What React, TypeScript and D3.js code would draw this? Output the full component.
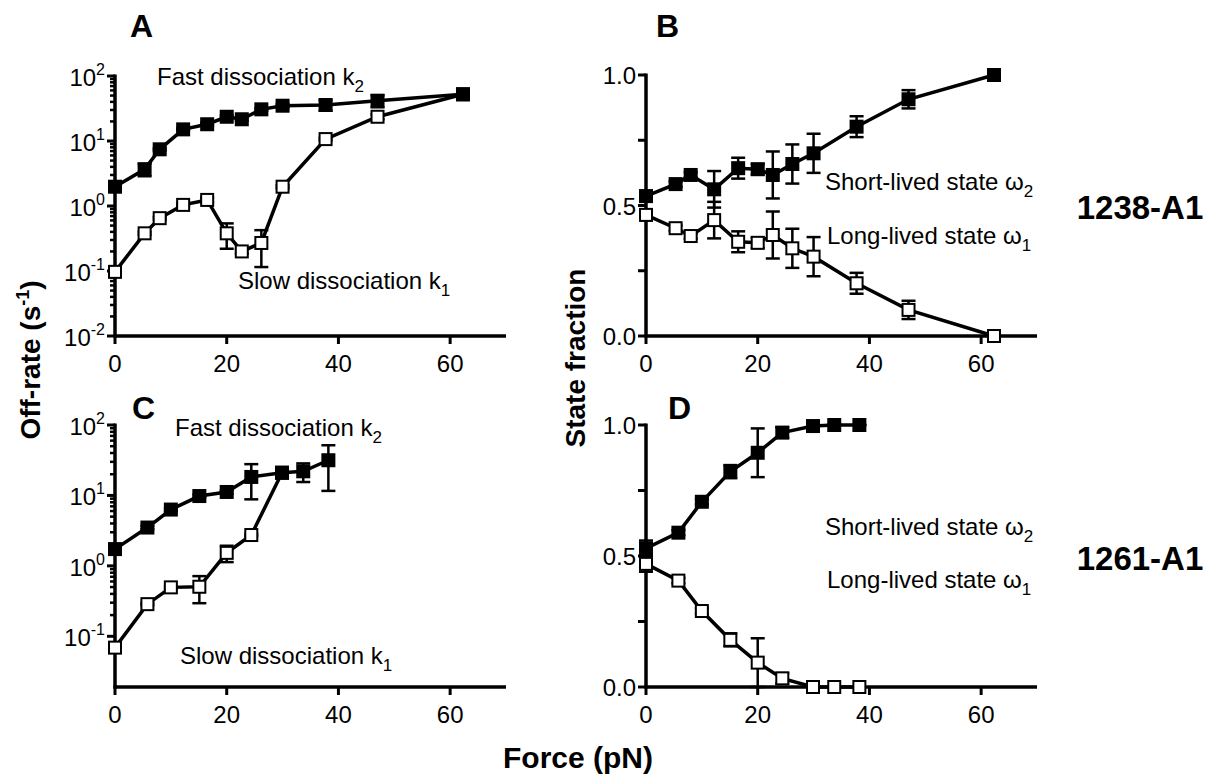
import React from 'react';
import * as d3 from 'd3';

const FONT = '"Liberation Sans", Arial, Helvetica, sans-serif';

// force values (pN), top row (1238-A1)
const forceTop = [0, 5.3, 8, 12.2, 16.5, 20, 22.7, 26.2, 30, 37.7, 47, 62.3];
// panel A off-rates (s^-1)
const fastA = [1.98, 3.67, 7.45, 15.1, 18.1, 23.6, 21.6, 30.7, 34.9, 35.8, 41.7, 52.3];
const fastAErr = [0.1, 0.8, 0.3, 0.6, 0.9, 1.2, 1.1, 1.5, 2, 6.5, 8.7, 2.5];
const slowA = [0.097, 0.38, 0.65, 1.04, 1.24, 0.38, 0.2, 0.27, 1.98, 10.7, 23.6, 52.3];
const slowAErr = [0.005, 0.02, 0.03, 0.05, 0.1, 0.16, 0.015, 0.155, 0.1, 0.5, 2, 2.5];
// panel B state fractions
const shortB = [0.536, 0.582, 0.617, 0.562, 0.643, 0.639, 0.617, 0.659, 0.7, 0.802, 0.907, 1.0];
const longB = [0.464, 0.413, 0.383, 0.444, 0.361, 0.357, 0.387, 0.336, 0.304, 0.202, 0.1, 0.0];
const errB = [0.02, 0.01, 0.01, 0.07, 0.04, 0.02, 0.09, 0.075, 0.075, 0.04, 0.035, 0];

// bottom row (1261-A1)
const forceBottom = [0, 5.8, 10, 15.1, 20, 24.4, 29.9, 33.7, 38.2];
const fastC = [1.73, 3.5, 6.3, 9.8, 11.2, 18.3, 21, 22, 31.6];
const fastCErr = [0.1, 0.2, 0.3, 0.5, 0.6, 9.5, 1.2, 6.5, 20];
const slowC = [0.069, 0.286, 0.495, 0.505, 1.53, 2.74, 21];
const slowCErr = [0.003, 0.01, 0.02, 0.21, 0.4, 0.1, 1.2];
const shortD = [0.529, 0.589, 0.707, 0.822, 0.894, 0.971, 0.996, 1, 1];
const longD = [0.47, 0.406, 0.29, 0.18, 0.093, 0.033, 0, 0, 0];
const errD = [0.03, 0.01, 0.01, 0.025, 0.093, 0.02, 0.005, 0, 0];

const xTicks = [0, 20, 40, 60];
const fracTicks = [0, 0.25, 0.5, 0.75, 1];
const fracLabels = ['0.0', '', '0.5', '', '1.0'];

type Series = { x: number[]; y: number[]; err: number[]; filled: boolean };

function Plot({ x, y, series, log, decades }: any) {
  const [yb, yt] = y.range();
  const ax0 = x(0);
  const line = d3.line<[number, number]>().x(d => x(d[0])).y(d => y(d[1]));
  const minor: number[] = [];
  if (log) {
    for (let e = decades[0]; e < decades[decades.length - 1]; e++) {
      for (let k = 2; k <= 9; k++) minor.push(k * Math.pow(10, e));
    }
  }
  return (
    <g>
      {/* axes */}
      <line x1={ax0 - 1.5} x2={x(70)} y1={yb} y2={yb} stroke="#000" strokeWidth={3.5} />
      <line x1={ax0} x2={ax0} y1={yt - 1.5} y2={yb + 1.5} stroke="#000" strokeWidth={3.5} />
      {xTicks.map(t => (
        <g key={'x' + t}>
          <line x1={x(t)} x2={x(t)} y1={yb} y2={yb + 8} stroke="#000" strokeWidth={3} />
          <text x={x(t)} y={yb + 36} textAnchor="middle" fontSize={24} fontFamily={FONT}>{t}</text>
        </g>
      ))}
      {log ? (
        <>
          {minor.map(v => (
            <line key={'m' + v} x1={ax0 - 5} x2={ax0} y1={y(v)} y2={y(v)} stroke="#000" strokeWidth={2.5} />
          ))}
          {decades.map((e: number) => (
            <g key={'d' + e}>
              <line x1={ax0 - 8} x2={ax0} y1={y(Math.pow(10, e))} y2={y(Math.pow(10, e))} stroke="#000" strokeWidth={3} />
              <text x={ax0 - 10} y={y(Math.pow(10, e)) + 10} textAnchor="end" fontSize={24} fontFamily={FONT}>
                10<tspan fontSize={16} dy={-11}>{e}</tspan>
              </text>
            </g>
          ))}
        </>
      ) : (
        fracTicks.map((t, i) => (
          <g key={'y' + t}>
            <line x1={ax0 - 8} x2={ax0} y1={y(t)} y2={y(t)} stroke="#000" strokeWidth={3} />
            <text x={ax0 - 10} y={y(t) + 9} textAnchor="end" fontSize={24} fontFamily={FONT}>{fracLabels[i]}</text>
          </g>
        ))
      )}
      {/* lines */}
      {series.map((s: Series, i: number) => (
        <path key={'l' + i} d={line(s.y.map((v, j) => [s.x[j], v]) as [number, number][]) || ''}
          fill="none" stroke="#000" strokeWidth={3.5} />
      ))}
      {/* error bars */}
      {series.map((s: Series, i: number) => (
        <g key={'e' + i}>
          {s.y.map((v, j) => {
            const lo = log ? Math.max(v - s.err[j], 1e-3) : v - s.err[j];
            const hi = v + s.err[j];
            const cx = x(s.x[j]);
            return (
              <g key={j} stroke="#000" strokeWidth={2.5}>
                <line x1={cx} x2={cx} y1={y(lo)} y2={y(hi)} />
                <line x1={cx - 7} x2={cx + 7} y1={y(lo)} y2={y(lo)} />
                <line x1={cx - 7} x2={cx + 7} y1={y(hi)} y2={y(hi)} />
              </g>
            );
          })}
        </g>
      ))}
      {/* markers */}
      {series.map((s: Series, i: number) => (
        <g key={'p' + i}>
          {s.y.map((v, j) => (
            s.filled ? (
              <rect key={j} x={x(s.x[j]) - 7} y={y(v) - 7} width={14} height={14} fill="#000" />
            ) : (
              <rect key={j} x={x(s.x[j]) - 6} y={y(v) - 6} width={12} height={12} fill="#fff" stroke="#000" strokeWidth={2} />
            )
          ))}
        </g>
      ))}
    </g>
  );
}

function Label({ x, y, text, sub, size = 24 }: any) {
  return (
    <text x={x} y={y} fontSize={size} fontFamily={FONT}>
      {text}<tspan fontSize={17} dy={7}>{sub}</tspan>
    </text>
  );
}

export default function App() {
  const xLeft = d3.scaleLinear().domain([0, 70]).range([115, 506]);
  const xRight = d3.scaleLinear().domain([0, 70]).range([646, 1037]);
  const yA = d3.scaleLog().domain([0.01, 100]).range([336, 76]);
  const yB = d3.scaleLinear().domain([0, 1]).range([336, 75]);
  const yC = d3.scaleLog().domain([Math.pow(10, -1.72), 100]).range([687, 425]);
  const yD = d3.scaleLinear().domain([0, 1]).range([687, 425]);

  const sub = (xs: number[], n: number) => xs.slice(0, n);

  return (
    <div style={{ position: 'absolute', left: 0, top: 0 }}>
      <svg width={1222} height={777} style={{ display: 'block', background: '#fff' }}>
        <Plot x={xLeft} y={yA} log decades={[-2, -1, 0, 1, 2]} series={[
          { x: forceTop, y: slowA, err: slowAErr, filled: false },
          { x: forceTop, y: fastA, err: fastAErr, filled: true },
        ]} />
        <Plot x={xRight} y={yB} series={[
          { x: forceTop, y: longB, err: errB, filled: false },
          { x: forceTop, y: shortB, err: errB, filled: true },
        ]} />
        <Plot x={xLeft} y={yC} log decades={[-1, 0, 1, 2]} series={[
          { x: sub(forceBottom, slowC.length), y: slowC, err: slowCErr, filled: false },
          { x: forceBottom, y: fastC, err: fastCErr, filled: true },
        ]} />
        <Plot x={xRight} y={yD} series={[
          { x: forceBottom, y: longD, err: errD, filled: false },
          { x: forceBottom, y: shortD, err: errD, filled: true },
        ]} />

        <text x={130} y={37} fontSize={32} fontWeight="bold" fontFamily={FONT}>A</text>
        <text x={656} y={37} fontSize={32} fontWeight="bold" fontFamily={FONT}>B</text>
        <text x={132} y={419} fontSize={32} fontWeight="bold" fontFamily={FONT}>C</text>
        <text x={668} y={419} fontSize={32} fontWeight="bold" fontFamily={FONT}>D</text>

        <Label x={157} y={85} text="Fast dissociation k" sub="2" />
        <Label x={238} y={289} text="Slow dissociation k" sub="1" />
        <Label x={175} y={436} text="Fast dissociation k" sub="2" />
        <Label x={180} y={664} text="Slow dissociation k" sub="1" />

        <Label x={825} y={190} text="Short-lived state ω" sub="2" />
        <Label x={827} y={244} text="Long-lived state ω" sub="1" />
        <Label x={825} y={535} text="Short-lived state ω" sub="2" />
        <Label x={827} y={588} text="Long-lived state ω" sub="1" />

        <text x={1140} y={219} textAnchor="middle" fontSize={33} fontWeight="bold" fontFamily={FONT}>1238-A1</text>
        <text x={1140} y={570} textAnchor="middle" fontSize={33} fontWeight="bold" fontFamily={FONT}>1261-A1</text>

        <text transform="translate(40,360) rotate(-90)" textAnchor="middle" fontSize={28} fontWeight="bold" fontFamily={FONT}>
          Off-rate (s<tspan fontSize={18} dy={-11}>-1</tspan><tspan dy={11}>)</tspan>
        </text>
        <text transform="translate(585,358) rotate(-90)" textAnchor="middle" fontSize={28} fontWeight="bold" fontFamily={FONT}>
          State fraction
        </text>
        <text x={578} y={768} textAnchor="middle" fontSize={30} fontWeight="bold" fontFamily={FONT}>Force (pN)</text>
      </svg>
    </div>
  );
}
